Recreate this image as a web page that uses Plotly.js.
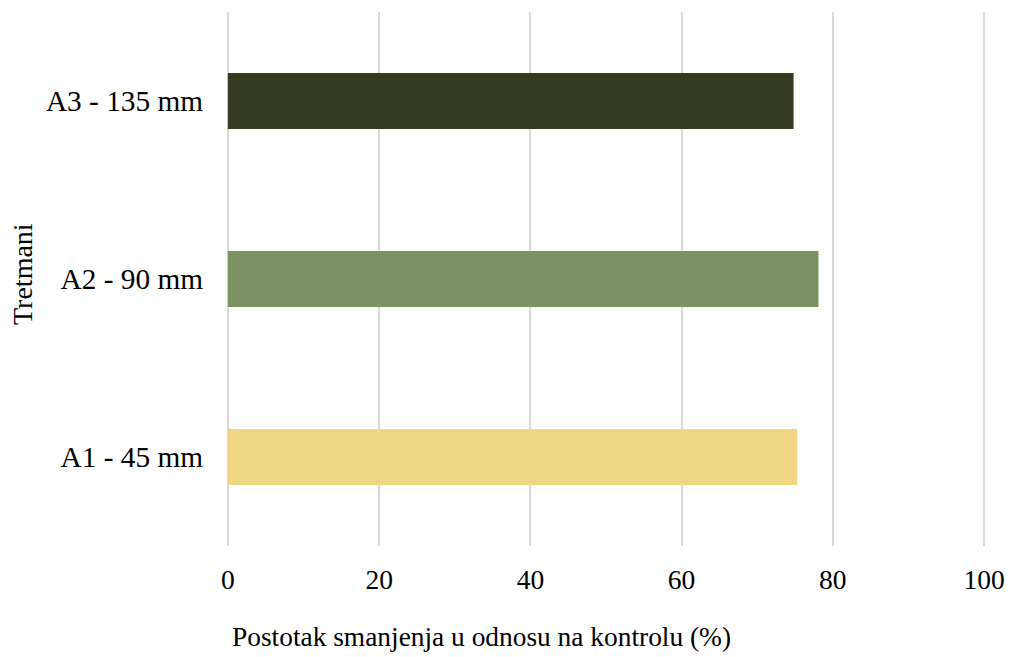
<!DOCTYPE html>
<html>
<head>
<meta charset="utf-8">
<script src="https://cdn.plot.ly/plotly-3.0.1.min.js"></script>
<style>html,body{margin:0;padding:0;background:#fff;}#chart{width:1011px;height:657px;}</style>
</head>
<body>
<div id="chart"></div>
<script>
const categories = ["A1 - 45 mm", "A2 - 90 mm", "A3 - 135 mm"];
const values = [75.3, 78.1, 74.8];
const colors = ["#F0D682", "#7D9263", "#353B20"];
const xTickVals = [0, 20, 40, 60, 80, 100];
const xTitle = "Postotak smanjenja u odnosu na kontrolu (%)";
const yTitle = "Tretmani";

const fam = "'Liberation Serif', 'Times New Roman', serif";
const font = {family: fam, size: 27, color: "#000"};

Plotly.newPlot("chart", [{
  type: "bar",
  orientation: "h",
  y: categories,
  x: values,
  marker: {color: colors},
  hoverinfo: "x+y"
}], {
  width: 1011, height: 657,
  margin: {l: 226, r: 25, t: 12, b: 111},
  paper_bgcolor: "#fff", plot_bgcolor: "#fff",
  bargap: 0.685,
  showlegend: false,
  font: font,
  xaxis: {
    range: [-0.25, 100.25],
    tickvals: xTickVals,
    showgrid: true, gridcolor: "#D9D9D9", gridwidth: 2,
    zeroline: false, showline: false,
    ticks: "", ticklabelstandoff: 14,
    tickfont: {family: fam, size: 27.5, color: "#000"},
    fixedrange: true
  },
  yaxis: {
    type: "category",
    categoryorder: "array", categoryarray: categories,
    showgrid: false, zeroline: false, showline: false,
    ticks: "", ticklabelstandoff: 22,
    tickfont: {family: fam, size: 29.3, color: "#000"},
    fixedrange: true
  },
  annotations: [
    {text: xTitle, xref: "paper", yref: "paper", x: (481 - 226) / 760, y: (546 - 637) / 534,
     xanchor: "center", yanchor: "middle", showarrow: false, font: {family: fam, size: 27.4, color: "#000"}},
    {text: yTitle, xref: "paper", yref: "paper", x: (22 - 226) / 760, y: (546 - 274) / 534,
     xanchor: "center", yanchor: "middle", showarrow: false, textangle: -90, font: {family: fam, size: 28, color: "#000"}}
  ]
}, {displayModeBar: false});
</script>
</body>
</html>
